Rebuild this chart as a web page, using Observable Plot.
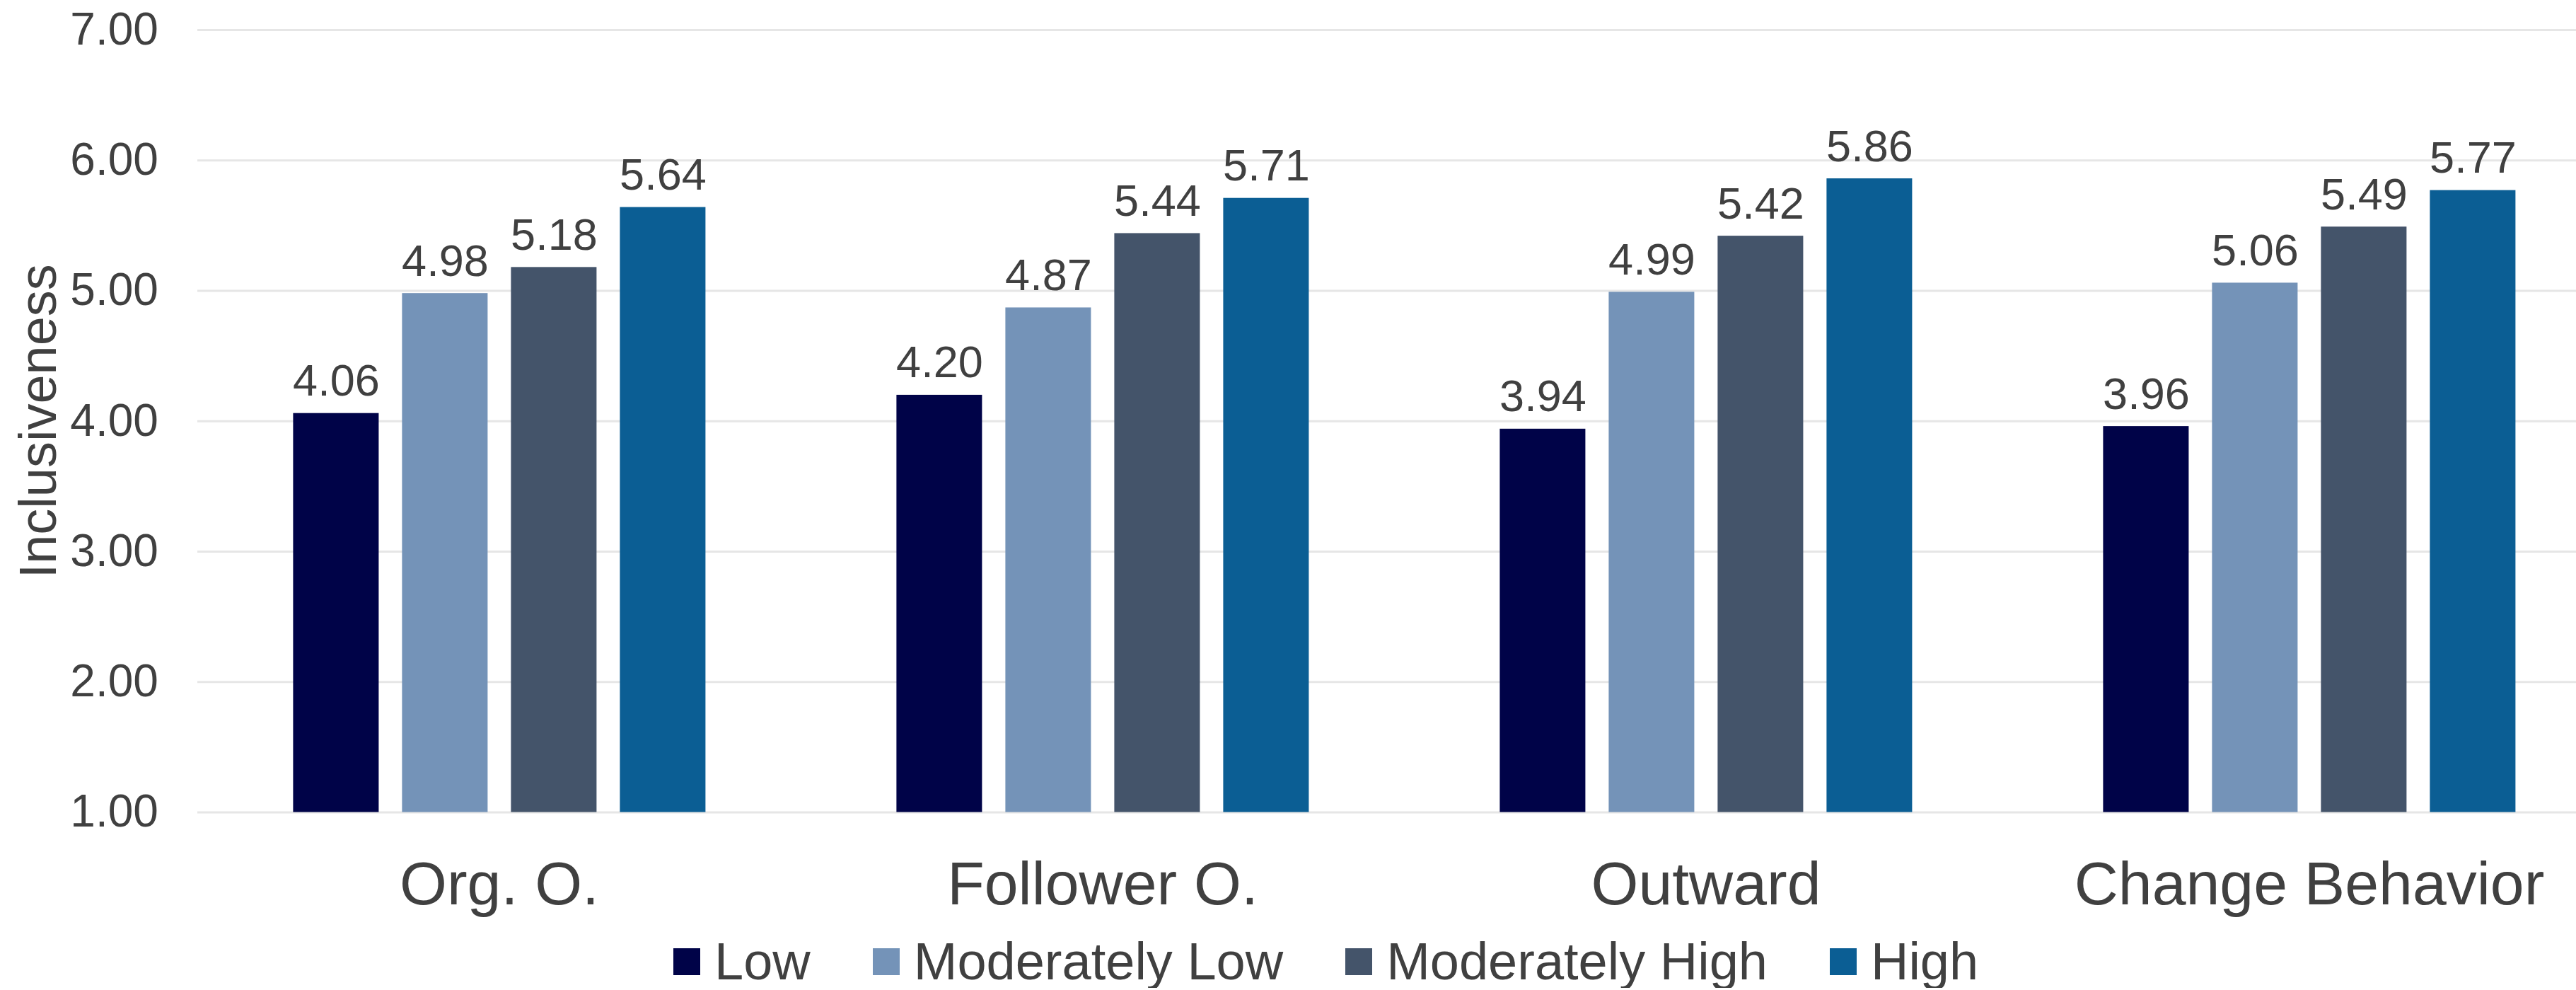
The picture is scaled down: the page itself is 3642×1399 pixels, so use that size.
<!DOCTYPE html>
<html>
<head>
<meta charset="utf-8">
<script src="https://cdn.jsdelivr.net/npm/d3@7"></script>
<script src="https://cdn.jsdelivr.net/npm/@observablehq/plot@0.6"></script>
<style>
  html, body { margin: 0; padding: 0; background: #ffffff; overflow: hidden; }
  #chart svg { display: block; }
  .legend {
    display: flex;
    align-items: center;
    padding-left: 952px;
    padding-top: 12px;
    font-family: "Liberation Sans", Arial, sans-serif;
    font-size: 74px;
    line-height: 74px;
    color: #404040;
    white-space: nowrap;
  }
  .legend .item { display: flex; align-items: center; margin-right: 88px; }
  .legend .swatch { width: 38px; height: 38px; margin-right: 20px; flex: none; }
</style>
</head>
<body>
<div id="chart"></div>
<script>
// Behaviour categories along the x axis
const groups = ["Org. O.", "Follower O.", "Outward", "Change Behavior"];
// Inclusiveness levels (series)
const levels = ["Low", "Moderately Low", "Moderately High", "High"];
const levelColors = ["#000348", "#7493b8", "#44546a", "#0b5e94"];

// Mean inclusiveness per category, one array per level
const lowValues = [4.06, 4.20, 3.94, 3.96];
const modLowValues = [4.98, 4.87, 4.99, 5.06];
const modHighValues = [5.18, 5.44, 5.42, 5.49];
const highValues = [5.64, 5.71, 5.86, 5.77];

// Y axis ticks
const yTicks = [1, 2, 3, 4, 5, 6, 7];

const seriesValues = [lowValues, modLowValues, modHighValues, highValues];
const rows = [];
groups.forEach((g, i) => {
  levels.forEach((l, j) => {
    rows.push({group: g, level: l, value: seriesValues[j][i]});
  });
});

const textColor = "#404040";
const font = "'Liberation Sans', Arial, sans-serif";

const chart = Plot.plot({
  width: 3642,
  height: 1310,
  marginTop: 42,
  marginBottom: 162.5,
  marginLeft: 277.6,
  marginRight: 0,
  style: {fontFamily: font, color: textColor, background: "#ffffff"},
  fx: {domain: groups, range: [277.6, 3691.4], padding: 0, label: null},
  x: {domain: levels, paddingInner: 0.213, paddingOuter: 0.86, axis: null},
  y: {domain: [1, 7]},
  color: {domain: levels, range: levelColors},
  marks: [
    Plot.ruleY(yTicks, {stroke: "#e6e6e6", strokeWidth: 3}),
    Plot.barY(rows, {fx: "group", x: "level", y1: 1, y2: "value", fill: "level"}),
    Plot.text(rows, {
      fx: "group", x: "level", y: "value",
      text: d => d.value.toFixed(2),
      lineAnchor: "bottom", dy: -25,
      fontSize: 63, fill: textColor
    }),
    Plot.axisY(yTicks, {
      tickSize: 0, tickPadding: 55.6, fontSize: 64,
      tickFormat: d3.format(".2f"), label: null, fill: textColor
    }),
    Plot.axisFx({
      anchor: "bottom", tickSize: 0, tickPadding: 68.5,
      fontSize: 86, label: null, fill: textColor
    }),
    // Y axis title, drawn once beside the first group
    Plot.text(["Inclusiveness"], {
      fx: () => groups[0],
      frameAnchor: "left", textAnchor: "middle", rotate: -90, dx: -224,
      fontSize: 74, fill: textColor
    })
  ]
});

document.getElementById("chart").appendChild(chart);

// Legend below the chart
const legend = document.createElement("div");
legend.className = "legend";
levels.forEach((l, i) => {
  const item = document.createElement("div");
  item.className = "item";
  const sw = document.createElement("span");
  sw.className = "swatch";
  sw.style.background = levelColors[i];
  const label = document.createElement("span");
  label.textContent = l;
  item.appendChild(sw);
  item.appendChild(label);
  legend.appendChild(item);
});
document.body.appendChild(legend);
</script>
</body>
</html>
